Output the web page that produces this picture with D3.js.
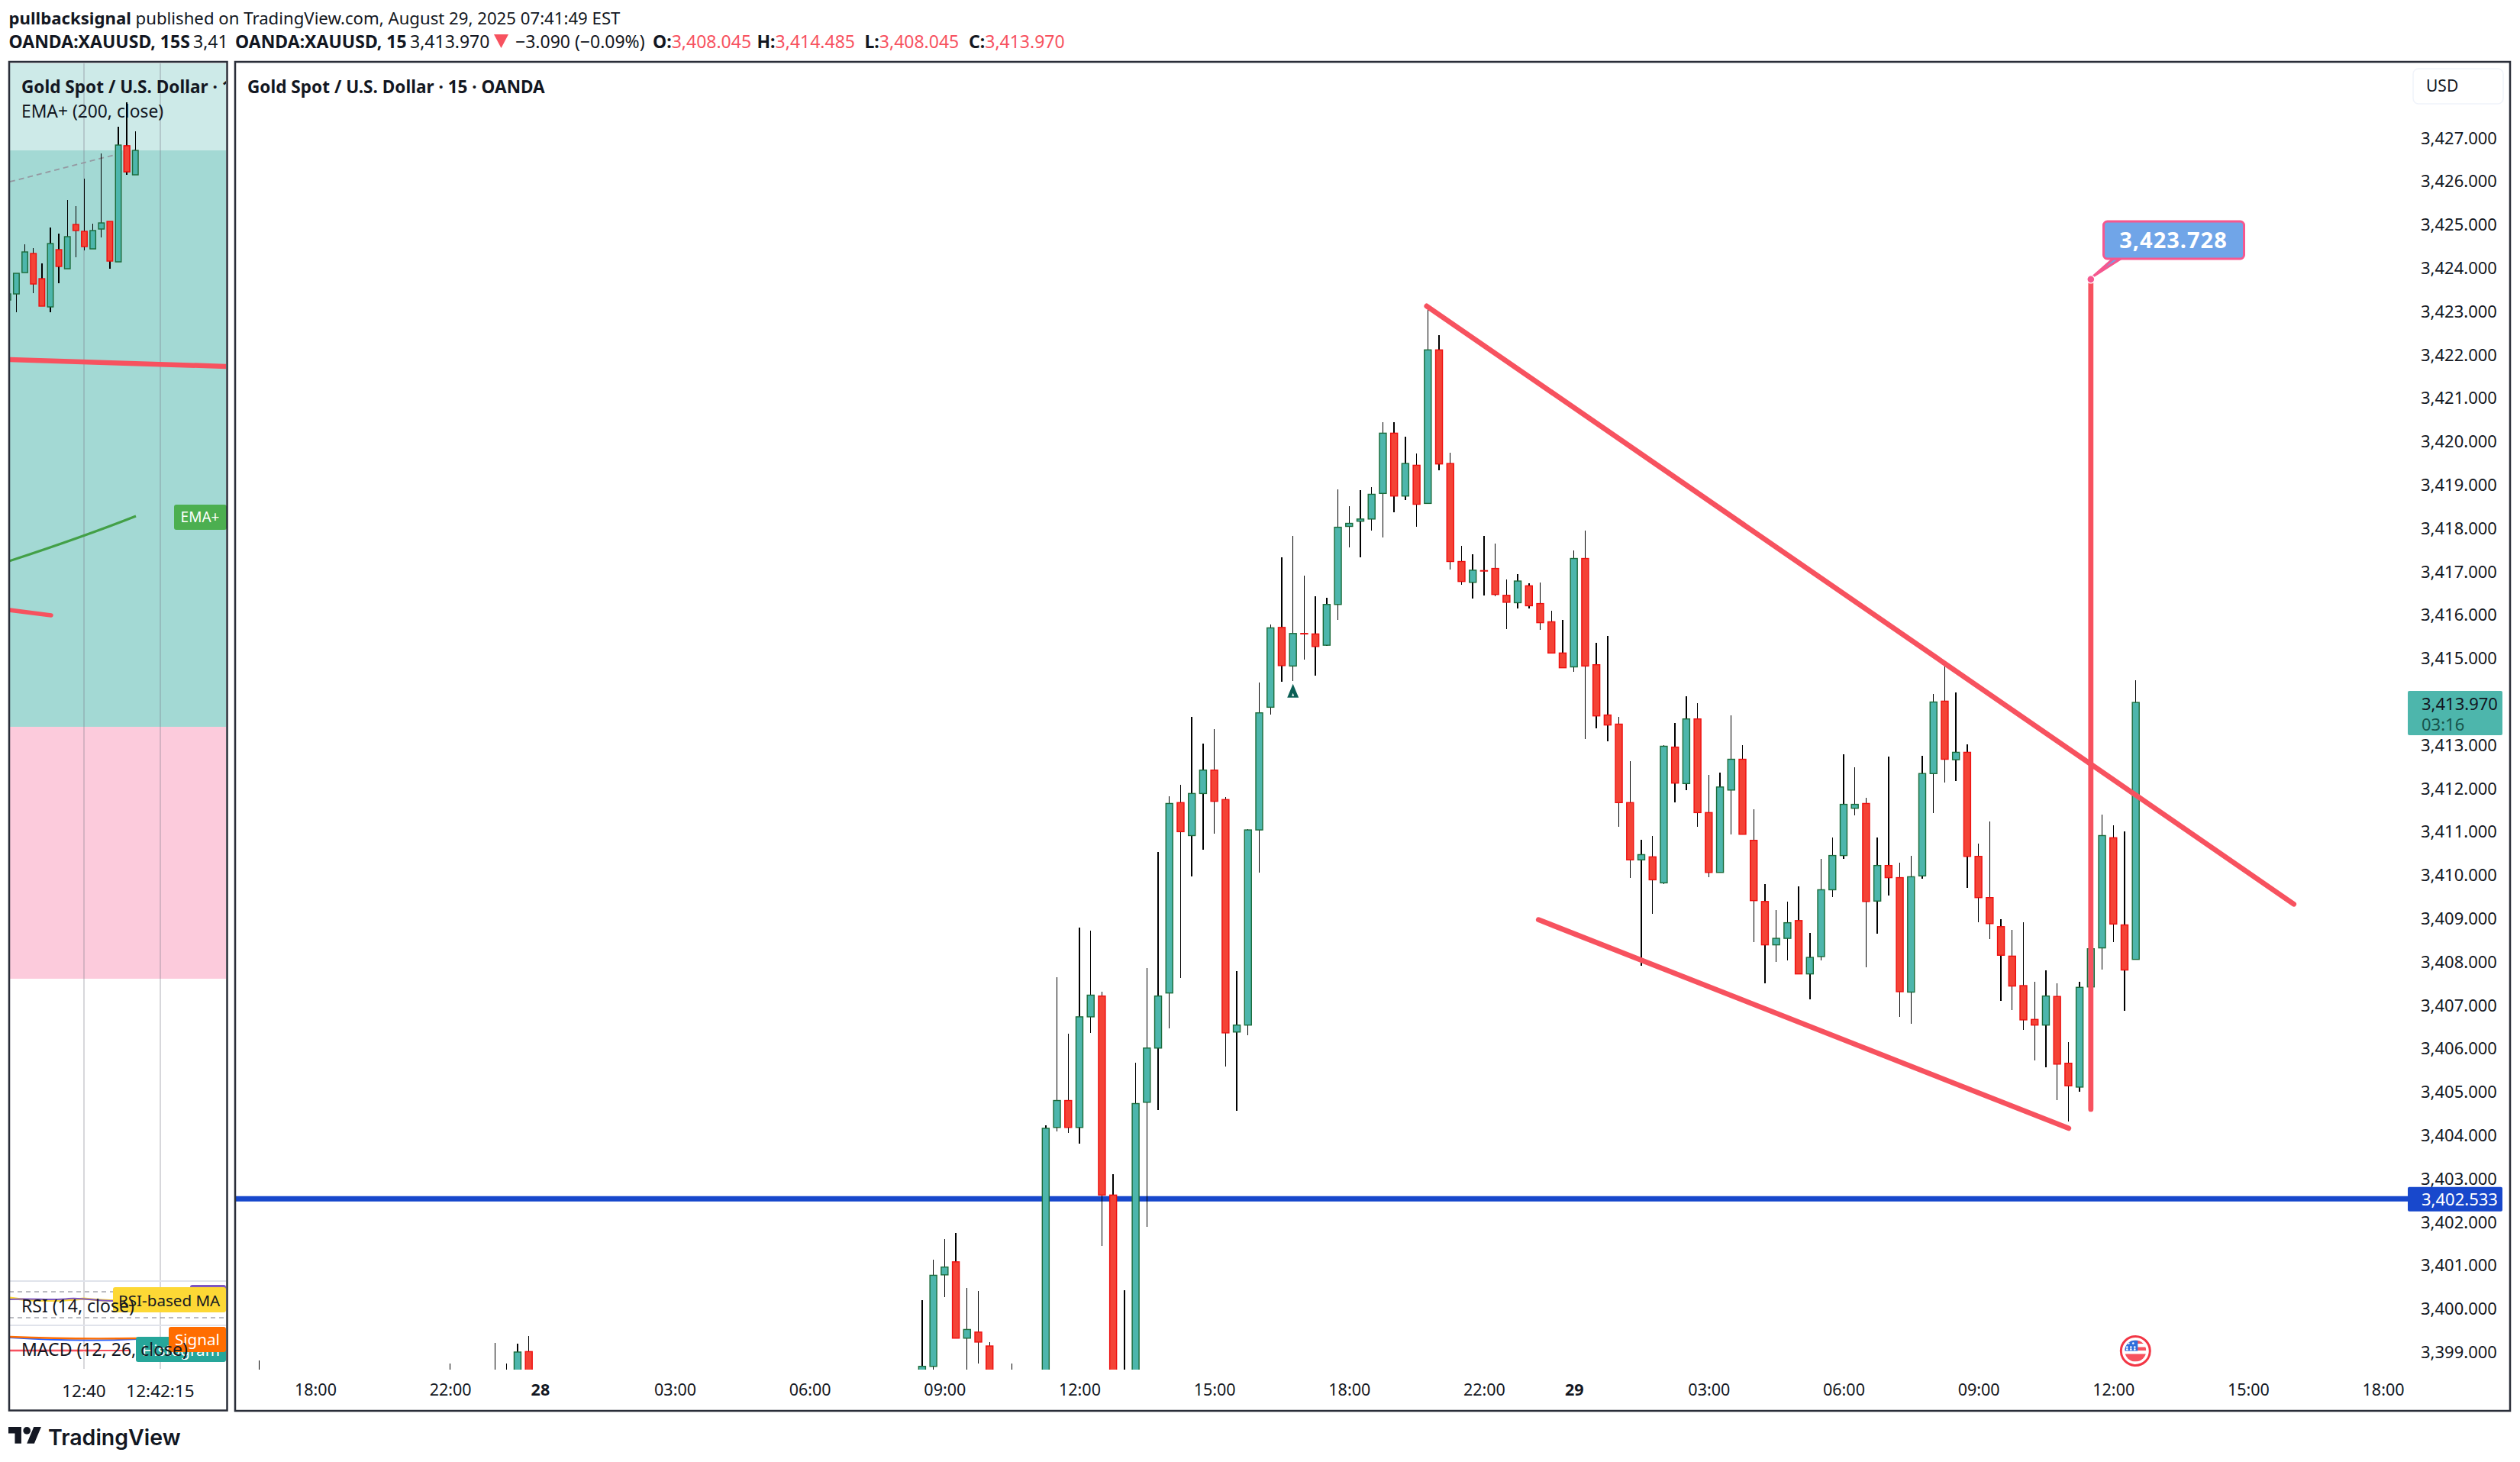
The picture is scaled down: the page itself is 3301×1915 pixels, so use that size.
<!DOCTYPE html>
<html>
<head>
<meta charset="utf-8">
<title>XAUUSD</title>
<script src="https://cdn.jsdelivr.net/npm/d3@7"></script>
<style>
  html, body { margin: 0; padding: 0; background: #fff; }
  svg { display: block; }
  text { font-family: "Noto Sans", sans-serif; fill: #131722; }
</style>
</head>
<body>
<div id="chart"></div>
<script>
// 15 min chart, bars are numbered from the first 18:00 tick
const barIndex = [-5, 12, 16, 17, 18, 19, 54, 55, 56, 57, 58, 59, 60, 62,
  65, 66, 67, 68, 69, 70, 71, 72, 73, 74, 75, 76, 77, 78, 79, 80, 81, 82, 83,
  84, 85, 86, 87, 88, 89, 90, 91, 92, 93, 94, 95, 96, 97, 98, 99, 100, 101, 102, 103,
  104, 105, 106, 107, 108, 109, 110,
  111, 112, 113, 114, 115, 116, 117, 118, 119, 120, 121, 122, 123, 124, 125, 126, 127, 128,
  129, 130, 131, 132, 133, 134, 135, 136, 137, 138,
  139, 140, 141, 142, 143, 144, 145, 146, 147, 148, 149, 150, 151, 152, 153, 154, 155, 156, 157, 158, 159, 160, 161, 162];

const barOpen = [3398.2, 3398.2, 3398.2, 3398.2, 3398.2, 3399.0, 3398.2, 3398.66, 3400.77, 3401.07, 3399.31, 3399.45, 3399.13, 3398.3,
  3397.5, 3404.17, 3404.79, 3404.17, 3406.72, 3407.2, 3402.61, 3397.8, 3397.5, 3404.75, 3406.0, 3407.27, 3411.66, 3410.9, 3411.87, 3412.41, 3411.73, 3406.37, 3406.53,
  3411.03, 3413.86, 3415.7, 3414.81, 3415.56, 3415.55, 3415.29, 3416.23, 3418.03, 3418.15, 3418.2, 3418.79, 3420.18, 3418.73, 3419.44, 3418.56, 3422.1, 3419.48, 3417.22, 3416.74,
  3417.01, 3417.06, 3416.44, 3416.27, 3416.66, 3416.25, 3415.83,
  3415.11, 3414.79, 3417.29, 3414.84, 3413.68, 3413.47, 3411.66, 3410.34, 3410.41, 3409.81, 3412.94, 3412.1, 3413.59, 3411.43, 3410.05, 3411.95, 3412.66, 3410.79,
  3409.38, 3408.38, 3408.53, 3408.94, 3407.71, 3408.11, 3409.65, 3410.44, 3411.53, 3411.64,
  3409.39, 3410.21, 3409.93, 3407.29, 3409.97, 3412.33, 3414.0, 3412.65, 3412.82, 3410.42, 3409.47, 3408.8, 3408.12, 3407.44, 3406.66, 3406.53, 3407.19, 3405.65, 3405.1, 3407.41, 3408.31, 3410.85, 3408.84, 3408.045];

const barHigh = [3398.8, 3398.73, 3399.2, 3398.73, 3399.18, 3399.36, 3400.18, 3401.12, 3401.59, 3401.73, 3400.46, 3400.4, 3399.21, 3398.73,
  3404.22, 3407.63, 3406.33, 3408.78, 3408.71, 3407.3, 3403.09, 3400.41, 3405.66, 3407.85, 3410.52, 3411.81, 3412.07, 3413.64, 3413.02, 3413.35, 3411.79, 3407.77, 3411.05,
  3414.43, 3415.77, 3417.32, 3417.81, 3416.89, 3416.42, 3416.38, 3418.88, 3418.49, 3418.86, 3418.94, 3420.43, 3420.43, 3420.1, 3419.71, 3423.09, 3422.44, 3419.73, 3417.58, 3417.39,
  3417.81, 3417.63, 3416.8, 3416.93, 3416.72, 3416.73, 3416.08,
  3415.87, 3417.48, 3417.93, 3415.34, 3415.5, 3413.64, 3412.62, 3410.81, 3410.89, 3412.98, 3413.5, 3414.11, 3413.95, 3412.3, 3412.35, 3413.67, 3412.98, 3411.5,
  3409.78, 3409.19, 3409.38, 3409.73, 3408.65, 3410.36, 3410.85, 3412.77, 3412.47, 3411.77,
  3410.86, 3412.72, 3410.28, 3410.43, 3412.74, 3414.17, 3414.87, 3414.2, 3413.0, 3410.72, 3411.23, 3408.97, 3408.73, 3408.91, 3407.52, 3407.79, 3407.49, 3406.13, 3407.52, 3408.4, 3411.38, 3411.14, 3411.0, 3414.485];

const barLow = [3398.0, 3398.0, 3398.0, 3398.0, 3398.0, 3398.0, 3398.0, 3398.3, 3400.25, 3399.31, 3398.3, 3398.73, 3398.0, 3398.0,
  3397.3, 3404.07, 3404.05, 3403.79, 3406.34, 3401.44, 3397.3, 3397.3, 3397.3, 3401.87, 3404.57, 3406.45, 3407.62, 3409.96, 3410.58, 3410.95, 3405.57, 3404.56, 3406.3,
  3410.05, 3413.69, 3414.44, 3414.47, 3414.96, 3414.59, 3415.27, 3415.87, 3417.54, 3417.31, 3417.93, 3417.77, 3418.35, 3418.64, 3418.02, 3418.56, 3419.32, 3417.03, 3416.68, 3416.36,
  3416.44, 3416.42, 3415.66, 3416.14, 3416.14, 3415.64, 3415.11,
  3414.77, 3414.67, 3413.12, 3413.38, 3413.08, 3411.11, 3409.93, 3407.9, 3409.09, 3409.78, 3411.67, 3411.95, 3411.11, 3409.94, 3410.05, 3410.92, 3410.93, 3408.45,
  3407.5, 3407.99, 3408.02, 3407.71, 3407.13, 3408.02, 3409.49, 3410.37, 3411.36, 3407.87,
  3408.64, 3409.52, 3406.72, 3406.56, 3409.9, 3411.42, 3412.12, 3412.15, 3409.69, 3408.91, 3408.52, 3407.08, 3406.88, 3406.42, 3405.72, 3405.56, 3404.8, 3404.31, 3405.0, 3407.3, 3407.81, 3408.45, 3406.86, 3408.045];

const barClose = [3398.1, 3398.3, 3398.1, 3398.1, 3398.99, 3398.2, 3398.66, 3400.76, 3400.95, 3399.31, 3399.51, 3399.22, 3398.2, 3398.2,
  3404.15, 3404.79, 3404.17, 3406.72, 3407.22, 3402.61, 3397.5, 3397.5, 3404.72, 3406.0, 3407.2, 3411.64, 3410.99, 3411.87, 3412.41, 3411.69, 3406.35, 3406.53, 3411.03,
  3413.73, 3415.69, 3414.82, 3415.56, 3415.55, 3415.26, 3416.23, 3418.01, 3418.1, 3418.2, 3418.77, 3420.18, 3418.73, 3419.48, 3418.54, 3422.1, 3419.47, 3417.22, 3416.76, 3417.02,
  3417.0, 3416.46, 3416.28, 3416.77, 3416.2, 3415.81, 3415.11,
  3414.77, 3417.29, 3414.81, 3413.66, 3413.45, 3411.66, 3410.34, 3410.46, 3409.88, 3412.96, 3412.11, 3413.59, 3411.43, 3410.05, 3412.02, 3412.66, 3410.93, 3409.4,
  3408.38, 3408.53, 3408.89, 3407.71, 3408.09, 3409.65, 3410.44, 3411.62, 3411.62, 3409.38,
  3410.21, 3409.93, 3407.3, 3409.95, 3412.33, 3413.98, 3412.66, 3412.82, 3410.42, 3409.47, 3408.87, 3408.14, 3407.43, 3406.65, 3406.53, 3407.2, 3405.63, 3405.13, 3407.4, 3408.29, 3410.9, 3408.86, 3407.8, 3413.97];

// 15S chart in the narrow pane
const miniIndex = [0, 1, 2, 3, 4, 5, 6, 7, 8, 9, 10, 11, 12, 13, 14, 15];
const miniOpen = [3412.01, 3412.09, 3412.37, 3412.62, 3412.29, 3411.92, 3412.67, 3412.42, 3413.0, 3412.91, 3412.68, 3412.94, 3413.04, 3412.51, 3414.03, 3413.65];
const miniHigh = [3412.09, 3412.36, 3412.74, 3412.69, 3412.49, 3412.96, 3412.88, 3413.32, 3413.24, 3413.6, 3413.01, 3413.93, 3413.04, 3414.28, 3414.6, 3414.22];
const miniLow = [3412.01, 3411.85, 3412.37, 3412.1, 3411.93, 3411.85, 3412.23, 3412.42, 3412.57, 3412.66, 3412.68, 3412.83, 3412.42, 3412.51, 3413.65, 3413.65];
const miniClose = [3412.09, 3412.36, 3412.64, 3412.22, 3411.93, 3412.75, 3412.45, 3412.84, 3412.92, 3412.71, 3412.92, 3413.02, 3412.52, 3414.04, 3413.69, 3413.97];

const priceTicks = d3.range(3399, 3428);
const timeTickBars = [0, 12, 20, 32, 44, 56, 68, 80, 92, 104, 112, 124, 136, 148, 160, 172, 184];
const timeTickLabels = ["18:00", "22:00", "28", "03:00", "06:00", "09:00", "12:00", "15:00", "18:00", "22:00", "29", "03:00", "06:00", "09:00", "12:00", "15:00", "18:00"];

// drawings, in [bar, price]
const upperTrend = [[98.9, 3423.11], [176.06, 3409.32]];
const lowerTrend = [[108.85, 3408.96], [156.03, 3404.15]];
const spike = [[158.0, 3423.728], [158.0, 3404.59]];
const supportPrice = 3402.533;
const lastPrice = 3413.97;
const signalBar = 87, signalPrice = 3414.24;

const W = 3301, H = 1915;
const RED = "#f7525f", BORDER = "#2a2e39";

const svg = d3.select("#chart").append("svg").attr("width", W).attr("height", H);

const x = d3.scaleLinear().domain([0, 162]).range([413, 2797.7]);
const y = d3.scaleLinear().domain([3427, 3399]).range([180, 1770.4]);
const miniX = d3.scaleLinear().domain([0, 15]).range([10.3, 177.3]);
const miniY = d3.scaleLinear().domain([3413.97, 3412.97]).range([197, 297]);

function addClip(id, cx, cy, w, h) {
  svg.append("clipPath").attr("id", id).append("rect")
    .attr("x", cx).attr("y", cy).attr("width", w).attr("height", h);
}
addClip("mainClip", 308, 83, 2846, 1711);
addClip("miniClip", 13, 83, 283, 1710);
addClip("miniFull", 13, 83, 283, 1762);

function label(parent, tx, ty, str, opts = {}) {
  return parent.append("text")
    .attr("x", tx).attr("y", ty)
    .attr("dominant-baseline", "central")
    .attr("text-anchor", opts.anchor || "start")
    .style("font-size", (opts.size || 23) + "px")
    .style("font-weight", opts.weight || 400)
    .style("fill", opts.fill || "#131722")
    .text(str);
}

function candles(parent, idx, o, h, l, c, xs, ys, bodyW) {
  const rows = idx.map((d, i) => ({ bar: d, o: o[i], h: h[i], l: l[i], c: c[i] }));
  parent.selectAll("line.wick").data(rows).join("line")
    .attr("class", "wick")
    .attr("x1", (d) => xs(d.bar)).attr("x2", (d) => xs(d.bar))
    .attr("y1", (d) => ys(d.h)).attr("y2", (d) => ys(d.l))
    .attr("stroke", "#000").attr("stroke-width", 1.4)
    .attr("shape-rendering", "crispEdges");
  parent.selectAll("rect.body").data(rows).join("rect")
    .attr("class", "body")
    .attr("x", (d) => xs(d.bar) - bodyW / 2)
    .attr("y", (d) => ys(Math.max(d.o, d.c)))
    .attr("width", bodyW)
    .attr("height", (d) => Math.max(0.4, Math.abs(ys(d.o) - ys(d.c))))
    .attr("fill", (d) => (d.c >= d.o ? "#4db6ac" : "#f44336"))
    .attr("stroke", (d) => (d.c >= d.o ? "#1b6b3a" : "#ee0f0f"))
    .attr("stroke-width", 1.4);
}

function drawLine(parent, pts, color, width) {
  return parent.append("line")
    .attr("x1", x(pts[0][0])).attr("y1", y(pts[0][1]))
    .attr("x2", x(pts[1][0])).attr("y2", y(pts[1][1]))
    .attr("stroke", color).attr("stroke-width", width)
    .attr("stroke-linecap", "round");
}

// header
const head = svg.append("g");
const line1 = label(head, 11.5, 23, "pullbacksignal", { weight: 700, size: 22.2 });
line1.append("tspan").style("font-weight", 400).text(" published on TradingView.com, August 29, 2025 07:41:49 EST");

label(head, 11.5, 54, "OANDA:XAUUSD, 15S", { weight: 700 });
label(head, 253, 54, "3,41");
label(head, 308, 54, "OANDA:XAUUSD, 15", { weight: 700 });
label(head, 537, 54, "3,413.970");
head.append("path").attr("d", "M647,45 L666,45 L656.5,63 Z").attr("fill", RED);
label(head, 675, 54, "\u22123.090 (\u22120.09%)");
[["O:", "3,408.045", 855], ["H:", "3,414.485", 991.5], ["L:", "3,408.045", 1132.5], ["C:", "3,413.970", 1269]].forEach((d) => {
  const t = label(head, d[2], 54, d[0], { weight: 700 });
  t.append("tspan").style("font-weight", 400).style("fill", RED).text(d[1]);
});

// left pane
const mini = svg.append("g");
const miniBack = mini.append("g").attr("clip-path", "url(#miniFull)");
miniBack.append("rect").attr("x", 12).attr("y", 81).attr("width", 286).attr("height", 116).attr("fill", "#cdeae8");
miniBack.append("rect").attr("x", 12).attr("y", 197).attr("width", 286).attr("height", 755).attr("fill", "#a3d9d4");
miniBack.append("rect").attr("x", 12).attr("y", 952).attr("width", 286).attr("height", 330).attr("fill", "#fccbdc");

[110, 210].forEach((gx) => {
  miniBack.append("line").attr("x1", gx).attr("x2", gx).attr("y1", 83).attr("y2", 1793)
    .attr("stroke", "#787b86").attr("stroke-opacity", 0.4).attr("stroke-width", 1.5);
});
[1678, 1736].forEach((gy) => {
  miniBack.append("line").attr("x1", 12).attr("x2", 298).attr("y1", gy).attr("y2", gy)
    .attr("stroke", "#e0e3eb").attr("stroke-width", 2);
});
[1692, 1726].forEach((gy) => {
  miniBack.append("line").attr("x1", 12).attr("x2", 298).attr("y1", gy).attr("y2", gy)
    .attr("stroke", "#787b86").attr("stroke-width", 1.2).attr("stroke-dasharray", "6 5");
});

miniBack.append("line").attr("x1", 13).attr("y1", 238).attr("x2", 177).attr("y2", 196)
  .attr("stroke", "#9598a1").attr("stroke-width", 1.8).attr("stroke-dasharray", "7 5");

const miniMarks = mini.append("g").attr("clip-path", "url(#miniClip)");
candles(miniMarks, miniIndex, miniOpen, miniHigh, miniLow, miniClose, miniX, miniY, 7.5);

miniMarks.append("line").attr("x1", 12).attr("y1", 471).attr("x2", 298).attr("y2", 480)
  .attr("stroke", RED).attr("stroke-width", 6.5);
miniMarks.append("line").attr("x1", 12).attr("y1", 799).attr("x2", 67).attr("y2", 806)
  .attr("stroke", RED).attr("stroke-width", 5.5).attr("stroke-linecap", "round");
miniMarks.append("path").attr("d", "M12,735 C70,716 130,695 178,676")
  .attr("fill", "none").attr("stroke", "#43a047").attr("stroke-width", 3.2);
mini.append("rect").attr("x", 228).attr("y", 661).attr("width", 69).attr("height", 33).attr("rx", 3).attr("fill", "#4caf50");
label(mini, 262, 677, "EMA+", { anchor: "middle", size: 19, fill: "#fff" });

// rsi / macd stubs at the bottom of the left pane
mini.append("path").attr("d", "M13,1700 C50,1706 90,1703 110,1701 C130,1703 160,1705 175,1702")
  .attr("fill", "none").attr("stroke", "#fdd835").attr("stroke-width", 3);
mini.append("path").attr("d", "M13,1702 C40,1700 70,1704 90,1701 C110,1699 140,1707 160,1703")
  .attr("fill", "none").attr("stroke", "#7e57c2").attr("stroke-width", 2);
mini.append("rect").attr("x", 249).attr("y", 1683).attr("width", 47).attr("height", 12).attr("rx", 3).attr("fill", "#7e57c2");
mini.append("rect").attr("x", 148).attr("y", 1686).attr("width", 148).attr("height", 33).attr("rx", 3).attr("fill", "#fdd835");
label(mini, 155, 1703, "RSI-based MA", { size: 20.6 });

mini.append("line").attr("x1", 13).attr("y1", 1769).attr("x2", 130).attr("y2", 1769).attr("stroke", "#ffcdd2").attr("stroke-width", 4);
mini.append("line").attr("x1", 13).attr("y1", 1769).attr("x2", 170).attr("y2", 1769).attr("stroke", RED).attr("stroke-width", 1.8);
mini.append("path").attr("d", "M13,1752 C60,1755 120,1757 180,1754").attr("fill", "none").attr("stroke", "#2962ff").attr("stroke-width", 2);
mini.append("path").attr("d", "M13,1751 C60,1753 120,1754 180,1753").attr("fill", "none").attr("stroke", "#ff6d00").attr("stroke-width", 2.4);
mini.append("rect").attr("x", 178).attr("y", 1751).attr("width", 118).attr("height", 33).attr("rx", 3).attr("fill", "#26a69a");
label(mini, 186, 1768, "Histogram", { size: 20.6, fill: "#fff" });
mini.append("rect").attr("x", 221).attr("y", 1738).attr("width", 75).attr("height", 33).attr("rx", 3).attr("fill", "#ff6d00");
label(mini, 229, 1754, "Signal", { size: 20.6, fill: "#fff" });

label(mini, 28, 1710, "RSI (14, close)", { size: 23 });
label(mini, 28, 1767, "MACD (12, 26, close)", { size: 23 });

const miniTitle = mini.append("g").attr("clip-path", "url(#miniClip)");
label(miniTitle, 28, 113, "Gold Spot / U.S. Dollar \u00b7 15", { size: 22.6, weight: 700 });
label(miniTitle, 28, 145, "EMA+ (200, close)", { size: 22.8 });
candles(mini.append("g").attr("clip-path", "url(#miniClip)"), miniIndex.slice(14, 15), miniOpen.slice(14, 15), miniHigh.slice(14, 15), miniLow.slice(14, 15), miniClose.slice(14, 15), miniX, miniY, 7.5);

label(mini, 110, 1821, "12:40", { anchor: "middle", size: 22.5 });
label(mini, 210, 1821, "12:42:15", { anchor: "middle", size: 22.5 });

mini.append("rect").attr("x", 12).attr("y", 81).attr("width", 285.5).attr("height", 1766.5)
  .attr("fill", "none").attr("stroke", BORDER).attr("stroke-width", 2.5);

// main pane
const main = svg.append("g");
const marks = main.append("g").attr("clip-path", "url(#mainClip)");

marks.append("line").attr("x1", 308).attr("x2", 3154)
  .attr("y1", y(supportPrice) + 0.5).attr("y2", y(supportPrice) + 0.5)
  .attr("stroke", "#1848cc").attr("stroke-width", 7);

candles(marks, barIndex, barOpen, barHigh, barLow, barClose, x, y, 9);

marks.append("path")
  .attr("transform", `translate(${x(signalBar)},${y(signalPrice)})`)
  .attr("d", "M0,-9 L7.5,9 L-7.5,9 Z M0,3 L-1.5,7 L1.5,7 Z")
  .attr("fill-rule", "evenodd")
  .attr("fill", "#0b5f55");

drawLine(main, upperTrend, RED, 6.8);
drawLine(main, lowerTrend, RED, 6.8);
drawLine(main, spike, RED, 6.8);

// callout at the top of the spike
const tipX = x(spike[0][0]), tipY = y(spike[0][1]);
main.append("path")
  .attr("d", `M${tipX + 2},${tipY - 3} L2768,339 L2778,339 Z`)
  .attr("fill", "#70a5e8").attr("stroke", "#f5588f").attr("stroke-width", 3).attr("stroke-linejoin", "round");
main.append("rect").attr("x", 2755.5).attr("y", 290).attr("width", 184).attr("height", 49).attr("rx", 5)
  .attr("fill", "#70a5e8").attr("stroke", "#f5588f").attr("stroke-width", 3);
main.append("circle").attr("cx", tipX).attr("cy", tipY).attr("r", 5)
  .attr("fill", "#f5588f").attr("stroke", "#fff").attr("stroke-width", 1.4);
label(main, 2847, 313, "3,423.728", { anchor: "middle", size: 29, weight: 700, fill: "#fff" }).style("letter-spacing", "1px");

label(main, 324, 113, "Gold Spot / U.S. Dollar \u00b7 15 \u00b7 OANDA", { size: 22.6, weight: 700 });

// price axis
const yAxis = d3.axisRight(y).tickValues(priceTicks).tickFormat(d3.format(",.3f")).tickSize(0).tickPadding(0);
const yG = main.append("g").attr("transform", "translate(3171,1)").call(yAxis);
yG.select(".domain").remove();
yG.selectAll("text").style("font-size", "22px").attr("fill", "#131722").style("font-family", '"Noto Sans", sans-serif');

main.append("rect").attr("x", 3161).attr("y", 90).attr("width", 118).attr("height", 46).attr("rx", 7)
  .attr("fill", "#fff").attr("stroke", "#f0f3fa").attr("stroke-width", 1.5);
label(main, 3178, 112, "USD", { size: 21 });

// last price and line tags on the scale
main.append("rect").attr("x", 3154).attr("y", y(lastPrice) - 15).attr("width", 124).attr("height", 58).attr("rx", 2).attr("fill", "#4db6ac");
label(main, 3172, y(lastPrice) + 0.5, "3,413.970", { size: 22 });
label(main, 3172, y(lastPrice) + 27.5, "03:16", { size: 22, fill: "#17544c" });
main.append("rect").attr("x", 3154).attr("y", y(supportPrice) - 15).attr("width", 124).attr("height", 32).attr("rx", 2).attr("fill", "#1848cc");
label(main, 3172, y(supportPrice) + 0.5, "3,402.533", { size: 22, fill: "#fff" });

// time axis
const xAxis = d3.axisBottom(x).tickValues(timeTickBars)
  .tickFormat((d, i) => timeTickLabels[i]).tickSize(0).tickPadding(0);
const xG = main.append("g").attr("transform", "translate(0,1813)").call(xAxis);
xG.select(".domain").remove();
xG.selectAll("text").style("font-size", "21.5px").attr("fill", "#131722")
  .style("font-family", '"Noto Sans", sans-serif')
  .style("font-weight", (d, i) => (/^\d\d$/.test(timeTickLabels[i]) ? 700 : 400));

// economic event flag
const flag = main.append("g").attr("transform", "translate(2797.3,1769.5)");
svg.append("clipPath").attr("id", "flagClip").append("circle").attr("r", 14);
const flagIn = flag.append("g").attr("clip-path", "url(#flagClip)");
flagIn.append("rect").attr("x", -14).attr("y", -14).attr("width", 28).attr("height", 28).attr("fill", "#fff");
[-14, -5, 4].forEach((sy) => {
  flagIn.append("rect").attr("x", -14).attr("y", sy).attr("width", 28).attr("height", sy === 4 ? 10 : 4.5).attr("fill", "#f7525f");
});
flagIn.append("rect").attr("x", -14).attr("y", -14).attr("width", 17).attr("height", 14).attr("fill", "#2f6fdc");
[[-9, -10], [-3, -10], [-11, -5], [-6, -5], [-1, -5], [-11, -2], [-6, -2], [-1, -2]].forEach((p) => {
  flagIn.append("circle").attr("cx", p[0]).attr("cy", p[1]).attr("r", 1.3).attr("fill", "#fff");
});
flag.append("circle").attr("r", 19).attr("fill", "none").attr("stroke", "#f23645").attr("stroke-width", 3);

main.append("rect").attr("x", 308).attr("y", 81).attr("width", 2980).attr("height", 1767)
  .attr("fill", "none").attr("stroke", BORDER).attr("stroke-width", 2.5);

// logo
const logo = svg.append("g").attr("transform", "translate(11,1864.2) scale(1.21)");
logo.append("path").attr("d", "M14 22H7V11H0V4h14v18zM28 22h-8l7.5-18h8L28 22z").attr("fill", "#131722");
logo.append("circle").attr("cx", 20).attr("cy", 8).attr("r", 4).attr("fill", "#131722");
label(svg, 63, 1882, "TradingView", { size: 28.5, weight: 600 }).style("font-family", "Inter, sans-serif");
</script>
</body>
</html>
